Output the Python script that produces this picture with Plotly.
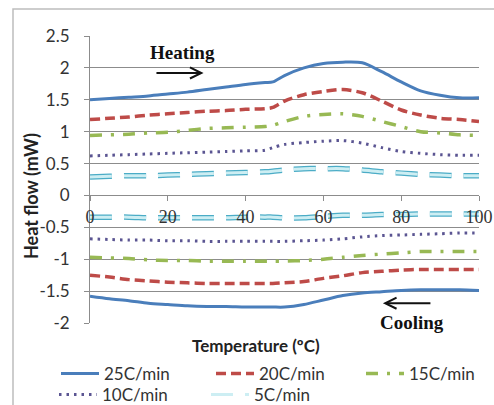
import plotly.graph_objects as go

temps = [0, 5, 10, 15, 20, 25, 30, 35, 40, 45, 47, 50, 55, 60, 65, 70, 75, 80, 85, 90, 95, 100]

heat_25 = [1.50, 1.52, 1.54, 1.56, 1.59, 1.62, 1.66, 1.70, 1.74, 1.77, 1.78, 1.88, 2.00, 2.07, 2.09, 2.08, 1.94, 1.78, 1.64, 1.57, 1.53, 1.53]
heat_20 = [1.19, 1.21, 1.23, 1.26, 1.28, 1.30, 1.32, 1.33, 1.35, 1.36, 1.38, 1.48, 1.58, 1.63, 1.66, 1.61, 1.48, 1.34, 1.26, 1.21, 1.19, 1.16]
heat_15 = [0.94, 0.95, 0.96, 0.98, 0.99, 1.02, 1.05, 1.06, 1.07, 1.08, 1.10, 1.16, 1.24, 1.27, 1.28, 1.24, 1.16, 1.08, 1.00, 0.98, 0.95, 0.94]
heat_10 = [0.62, 0.63, 0.64, 0.65, 0.66, 0.67, 0.68, 0.69, 0.70, 0.71, 0.75, 0.80, 0.83, 0.85, 0.86, 0.82, 0.75, 0.69, 0.66, 0.64, 0.63, 0.63]
heat_5 = [0.29, 0.30, 0.31, 0.31, 0.32, 0.33, 0.34, 0.35, 0.36, 0.37, 0.38, 0.40, 0.42, 0.42, 0.42, 0.40, 0.37, 0.35, 0.33, 0.32, 0.31, 0.31]

cool_25 = [-1.58, -1.62, -1.65, -1.69, -1.71, -1.73, -1.74, -1.74, -1.75, -1.75, -1.75, -1.75, -1.71, -1.64, -1.57, -1.53, -1.51, -1.49, -1.48, -1.48, -1.48, -1.49]
cool_20 = [-1.25, -1.28, -1.32, -1.34, -1.36, -1.37, -1.38, -1.38, -1.38, -1.38, -1.38, -1.37, -1.35, -1.30, -1.26, -1.21, -1.19, -1.17, -1.16, -1.16, -1.16, -1.16]
cool_15 = [-0.97, -0.98, -0.99, -1.01, -1.02, -1.02, -1.03, -1.03, -1.03, -1.03, -1.03, -1.03, -1.02, -1.00, -0.97, -0.94, -0.92, -0.90, -0.88, -0.88, -0.88, -0.88]
cool_10 = [-0.68, -0.69, -0.70, -0.70, -0.71, -0.71, -0.72, -0.72, -0.72, -0.72, -0.72, -0.72, -0.71, -0.70, -0.68, -0.65, -0.63, -0.62, -0.61, -0.60, -0.59, -0.59]
cool_5 = [-0.34, -0.34, -0.34, -0.35, -0.35, -0.35, -0.35, -0.35, -0.34, -0.34, -0.34, -0.35, -0.35, -0.33, -0.31, -0.31, -0.30, -0.30, -0.29, -0.29, -0.29, -0.29]

series_names = ["25C/min", "20C/min", "15C/min", "10C/min", "5C/min"]
x_tick_vals = [0, 20, 40, 60, 80, 100]
x_tick_text = ["0", "20", "40", "60", "80", "100"]
y_tick_vals = [2.5, 2, 1.5, 1, 0.5, 0, -0.5, -1, -1.5, -2]
y_tick_text = ["2.5", "2", "1.5", "1", "0.5", "0", "-0.5", "-1", "-1.5", "-2"]

styles = [
    dict(color="#4a7ebb", width=3, dash="solid"),
    dict(color="#be4b48", width=3.5, dash="10px,5px"),
    dict(color="#98b954", width=3.5, dash="12px,9px,3px,9px"),
    dict(color="#5b5592", width=3, dash="2.5px,5px"),
    dict(color="#cdeef3", width=3, dash="22px,12px"),
]
heat = [heat_25, heat_20, heat_15, heat_10, heat_5]
cool = [cool_25, cool_20, cool_15, cool_10, cool_5]
legend_ids = ["legend", "legend2", "legend3", "legend4", "legend5"]

L, R, T, B = 90, 15, 36, 82
W, H = 494, 405
pw, ph = W - L - R, H - T - B


def px(xp):
    return (xp - L) / pw


def py(yp):
    return 1 - (yp - T) / ph


fig = go.Figure()
for i, name in enumerate(series_names):
    st = styles[i]
    for j, ys in enumerate([heat[i], cool[i]]):
        if i == 4:
            fig.add_trace(go.Scatter(
                x=temps, y=ys, mode="lines", showlegend=False, legendgroup=name,
                legend=legend_ids[i],
                line=dict(color="#4bacc6", width=5.5, dash=st["dash"], shape="spline", smoothing=0.8),
                hoverinfo="skip"))
        fig.add_trace(go.Scatter(
            x=temps, y=ys, mode="lines", name=name, legendgroup=name,
            legend=legend_ids[i], showlegend=(j == 0),
            line=dict(color=st["color"], width=st["width"], dash=st["dash"], shape="spline", smoothing=0.8)))

# legend text start positions / row centres (px)
legend_text_x = [105, 260, 410, 103, 255]
legend_row_y = [374, 374, 374, 395, 395]
item_w = 38
legend_defs = {}
for i, lid in enumerate(legend_ids):
    legend_defs[lid] = dict(
        x=px(legend_text_x[i] - item_w - 11), xanchor="left", y=py(legend_row_y[i]), yanchor="middle",
        orientation="h", bgcolor="rgba(0,0,0,0)", itemwidth=item_w,
        font=dict(size=17, color="#333333", family="Lato, Noto Sans, sans-serif"))

fig.update_layout(
    width=W, height=H,
    margin=dict(l=L, r=R, t=T, b=B, autoexpand=False),
    paper_bgcolor="white", plot_bgcolor="white",
    font=dict(family="Lato, Noto Sans, sans-serif", color="#333333", size=15),
    showlegend=True,
    **legend_defs,
    xaxis=dict(range=[0, 100], tickvals=x_tick_vals, ticktext=x_tick_text,
               anchor="free", position=2 / 4.5, showgrid=False, zeroline=False,
               showline=True, linecolor="#8c8c8c", linewidth=1,
               ticks="outside", ticklen=5, tickcolor="#8c8c8c",
               ticklabelstandoff=0, ticklabeloverflow="allow",
               tickfont=dict(size=18, color="#333333", family="Liberation Serif, serif")),
    yaxis=dict(range=[-2, 2.5], tickvals=y_tick_vals, ticktext=y_tick_text,
               showgrid=True, gridcolor="#8c8c8c", gridwidth=1, zeroline=False,
               showline=True, linecolor="#8c8c8c", linewidth=1,
               ticks="outside", ticklen=5, tickcolor="#8c8c8c",
               ticklabelstandoff=11, tickfont=dict(size=17, color="#333333")),
    shapes=[dict(type="rect", xref="paper", yref="paper",
                 x0=px(13), x1=px(520), y0=py(430), y1=py(9),
                 line=dict(color="#bdbdbd", width=1.5), layer="below")],
    annotations=[
        dict(text="<b>Heat flow (mW)</b>", xref="paper", yref="paper", textangle=-90,
             x=px(31), y=py(196), xanchor="center", yanchor="middle", showarrow=False,
             font=dict(size=18, color="#222222")),
        dict(text="<b>Temperature (ºC)</b>", xref="paper", yref="paper",
             x=px(256), y=py(345), xanchor="center", yanchor="middle", showarrow=False,
             font=dict(size=17, color="#222222")),
        dict(text="<b>Heating</b>", xref="x", yref="y", x=23.7, y=2.24, showarrow=False,
             xanchor="center", yanchor="middle",
             font=dict(family="Liberation Serif, serif", size=19, color="#111111")),
        dict(text="", xref="x", yref="y", x=29.2, y=1.92, ax=16.7, ay=1.92,
             axref="x", ayref="y", showarrow=True, arrowhead=5, arrowsize=1.1,
             arrowwidth=2, arrowcolor="#111111"),
        dict(text="<b>Cooling</b>", xref="x", yref="y", x=82.8, y=-1.99, showarrow=False,
             xanchor="center", yanchor="middle",
             font=dict(family="Liberation Serif, serif", size=19, color="#111111")),
        dict(text="", xref="x", yref="y", x=75.3, y=-1.69, ax=87.9, ay=-1.69,
             axref="x", ayref="y", showarrow=True, arrowhead=5, arrowsize=1.1,
             arrowwidth=2, arrowcolor="#111111"),
    ],
)

fig.write_html("out.html", config={"displayModeBar": False},
               post_script="document.body.style.margin='0px';")
